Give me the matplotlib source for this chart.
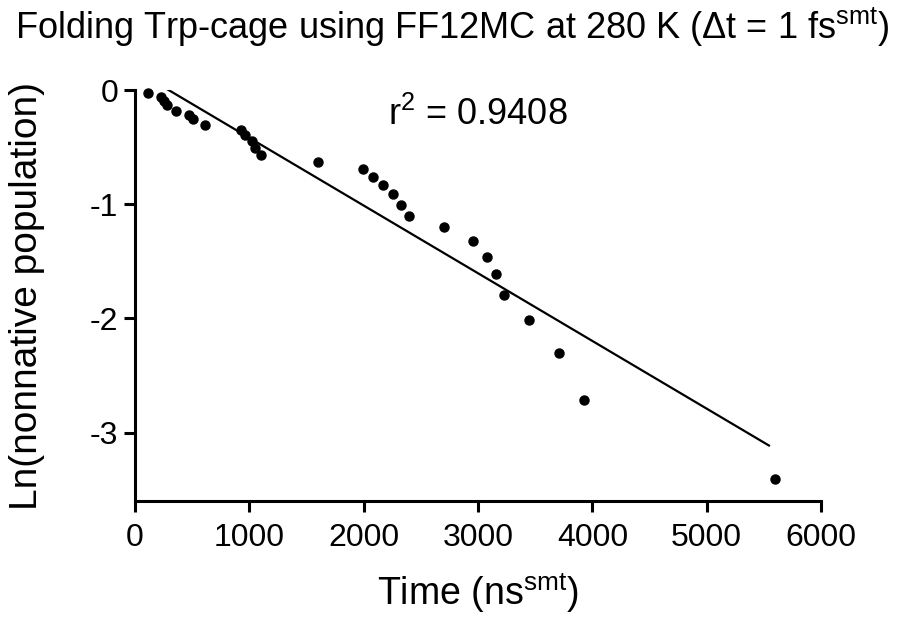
import matplotlib
matplotlib.use("Agg")
import matplotlib.pyplot as plt
import numpy as np

plt.rcParams['font.family'] = ['Liberation Sans', 'DejaVu Sans']
plt.rcParams['mathtext.fontset'] = 'custom'
plt.rcParams['mathtext.rm'] = 'Liberation Sans'
plt.rcParams['mathtext.it'] = 'Liberation Sans:italic'
plt.rcParams['axes.unicode_minus'] = False

# Data (time in ns^smt, ln of nonnative population)
time_ns = [110, 225, 255, 280, 359, 475, 510, 612,
           927, 962, 1023, 1050, 1102, 1601,
           1991, 2084, 2172, 2254, 2324, 2399, 2703, 2956, 3079, 3160,
           3230, 3449, 3711, 3930, 5598]
ln_pop = [-0.03, -0.064, -0.094, -0.131, -0.18, -0.22, -0.257, -0.307,
          -0.351, -0.395, -0.447, -0.509, -0.570, -0.632,
          -0.693, -0.763, -0.836, -0.915, -1.003, -1.103, -1.204, -1.322, -1.459, -1.614,
          -1.796, -2.018, -2.304, -2.711, -3.41]

# Linear fit drawn in the reference
fit_slope = -0.000593
fit_intercept = 0.174
fit_x_range = [283, 5545]
r_squared = "0.9408"

x_ticks = [0, 1000, 2000, 3000, 4000, 5000, 6000]
y_ticks = [0, -1, -2, -3]

fig = plt.figure(figsize=(9.04, 6.18), dpi=100)
ax = fig.add_axes([135/904, 1-501/618, (821-135)/904, (501-90)/618])

ax.plot(time_ns, ln_pop, 'o', color='black', markersize=6.5, clip_on=False, zorder=3)
fx = np.array(fit_x_range, dtype=float)
ax.plot(fx, fit_slope*fx + fit_intercept, color='black', lw=1.6)

ax.set_xlim(0, 6000)
ax.set_ylim(-3.6, 0)
ax.set_xticks(x_ticks)
ax.set_yticks(y_ticks)
ax.set_yticklabels([str(v) for v in y_ticks])

for s in ['top', 'right']:
    ax.spines[s].set_visible(False)
for s in ['left', 'bottom']:
    ax.spines[s].set_linewidth(2.2)
    ax.spines[s].set_capstyle('projecting')
ax.tick_params(axis='both', direction='out', length=8, width=2.2, labelsize=23)
ax.tick_params(axis='x', pad=8)
ax.tick_params(axis='y', pad=4)

ax.text(2213, -0.22, r"r$^{2}$ = " + r_squared, fontsize=26, va='center', ha='left')

ax.set_xlabel(r"Time (ns$^{\mathrm{smt}}$)", fontsize=27, labelpad=12)
ax.set_ylabel("Ln(nonnative population)", fontsize=28, labelpad=32)
fig.text(0.5, 1-39/618, "Folding Trp-cage using FF12MC at 280 K (\u0394t = 1 fs$^{\\mathrm{smt}}$)",
         fontsize=26, ha='center', va='baseline')

fig.savefig("out.png", dpi=100)
